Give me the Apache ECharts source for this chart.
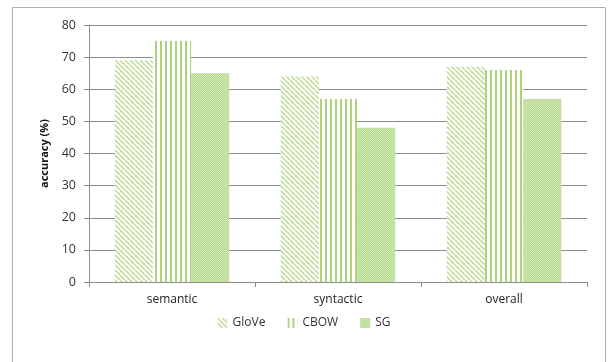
<!DOCTYPE html>
<html><head><meta charset="utf-8">
<script src="https://cdn.jsdelivr.net/npm/echarts@6/dist/echarts.min.js"></script>
<style>html,body{margin:0;padding:0;background:#fff}#c{width:608px;height:362px}</style>
</head><body><div id="c"></div>
<script>
const categories = ['semantic', 'syntactic', 'overall'];
const seriesNames = ['GloVe', 'CBOW', 'SG'];
const gloveValues = [69, 64, 67];
const cbowValues = [75, 57, 66];
const sgValues = [65, 48, 57];
const yTicks = [0, 10, 20, 30, 40, 50, 60, 70, 80];

function makePattern(kind) {
  const c = document.createElement('canvas');
  const ctx = c.getContext('2d');
  if (kind === 'diag') {
    c.width = 5; c.height = 5;
    ctx.fillStyle = '#ffffff'; ctx.fillRect(0, 0, 5, 5);
    ctx.strokeStyle = '#c4dc9c'; ctx.lineWidth = 1.6;
    for (let k = -5; k <= 10; k += 5) {
      ctx.beginPath(); ctx.moveTo(k, 0); ctx.lineTo(k + 5, 5); ctx.stroke();
    }
  } else if (kind === 'vert') {
    c.width = 5; c.height = 4;
    ctx.fillStyle = '#ffffff'; ctx.fillRect(0, 0, 5, 4);
    ctx.fillStyle = '#acd37c'; ctx.fillRect(0, 0, 2, 4);
  } else {
    c.width = 2; c.height = 2;
    ctx.fillStyle = '#b5d98b'; ctx.fillRect(0, 0, 2, 2);
    ctx.fillStyle = '#d3e9b8'; ctx.fillRect(0, 0, 1, 1); ctx.fillRect(1, 1, 1, 1);
  }
  return { image: c, repeat: 'repeat' };
}
const patterns = [makePattern('diag'), makePattern('vert'), makePattern('dots')];
const allValues = [gloveValues, cbowValues, sgValues];

const chart = echarts.init(document.getElementById('c'), null, { renderer: 'canvas' });
chart.setOption({
  animation: false,
  backgroundColor: '#fff',
  textStyle: { fontFamily: 'Open Sans, DejaVu Sans, sans-serif' },
  graphic: [{
    type: 'rect', shape: { x: 12.5, y: 7.5, width: 593, height: 360 },
    style: { fill: 'none', stroke: '#b0b0b0', lineWidth: 1 }, silent: true, z: -1
  }],
  grid: { left: 89, right: 21, top: 25, bottom: 80 },
  legend: {
    data: seriesNames, bottom: 28, left: 'center',
    itemWidth: 10, itemHeight: 10, itemGap: 22,
    textStyle: { fontSize: 12, color: '#333' },
    icon: 'rect'
  },
  xAxis: {
    type: 'category', data: categories,
    axisLine: { lineStyle: { color: '#8c8c8c' } },
    axisTick: { show: true, length: 5, lineStyle: { color: '#8c8c8c' } },
    axisLabel: { fontSize: 12, color: '#222', margin: 12 }
  },
  yAxis: {
    type: 'value', min: 0, max: 80, interval: 10,
    name: 'accuracy (%)', nameLocation: 'middle', nameGap: 37,
    nameTextStyle: { fontWeight: 'bold', fontSize: 11, color: '#111' },
    axisLine: { show: true, lineStyle: { color: '#8c8c8c' } },
    axisTick: { show: true, length: 5, lineStyle: { color: '#8c8c8c' } },
    axisLabel: { fontSize: 12.5, color: '#333', margin: 13 },
    splitLine: { lineStyle: { color: '#8c8c8c' } }
  },
  series: seriesNames.map((n, i) => ({
    name: n, type: 'bar', data: allValues[i],
    barGap: '0%', barCategoryGap: '31%',
    itemStyle: { color: patterns[i] }
  }))
});
</script></body></html>
